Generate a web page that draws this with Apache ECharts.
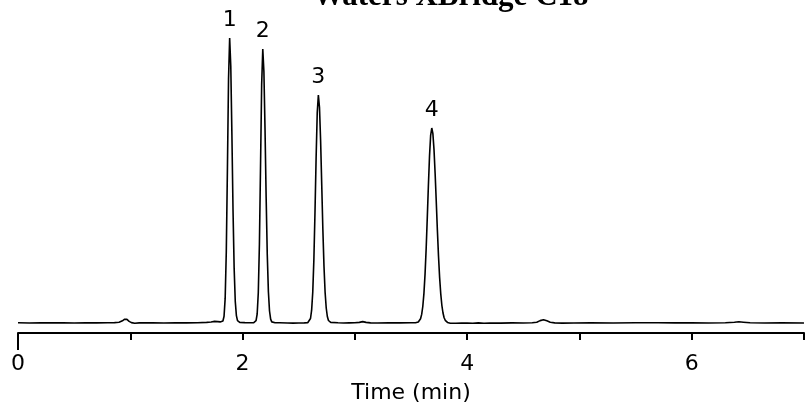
<!DOCTYPE html>
<html>
<head>
<meta charset="utf-8">
<script src="https://cdn.jsdelivr.net/npm/echarts@6/dist/echarts.min.js"></script>
<style>
  html, body { margin: 0; padding: 0; background: #fff; }
  #chart { width: 805px; height: 408px; }
</style>
</head>
<body>
<div id="chart"></div>
<script>
// Chromatogram (time in min, signal in arbitrary units)
const time = [
  0.00, 0.10, 0.20, 0.30, 0.40, 0.50, 0.60, 0.70, 0.80, 0.86, 0.90, 0.93, 0.95, 0.96, 0.97, 0.99,
  1.01, 1.04, 1.08, 1.20, 1.30, 1.40, 1.50, 1.60, 1.68, 1.72, 1.75, 1.78, 1.80, 1.815,
  1.825, 1.835, 1.845, 1.855, 1.865, 1.875, 1.885, 1.895, 1.905, 1.915, 1.925, 1.935, 1.945, 1.955, 1.965,
  1.975, 1.99, 2.02, 2.05, 2.08, 2.10,
  2.11, 2.12, 2.13, 2.14, 2.15, 2.16, 2.17, 2.18, 2.19, 2.20, 2.21, 2.22, 2.23, 2.24, 2.25, 2.26, 2.27,
  2.29, 2.33, 2.40, 2.45, 2.50, 2.55, 2.58,
  2.585, 2.595, 2.605, 2.615, 2.625, 2.635, 2.645, 2.655, 2.665, 2.675, 2.685, 2.695, 2.705, 2.715,
  2.725, 2.735, 2.745, 2.755, 2.765, 2.775, 2.785,
  2.80, 2.85, 2.90, 2.95, 3.00, 3.04, 3.07, 3.10, 3.14, 3.20, 3.30, 3.40, 3.50, 3.54,
  3.555, 3.565, 3.575, 3.585, 3.595, 3.605, 3.615, 3.625, 3.635, 3.645, 3.655, 3.665, 3.675, 3.685,
  3.695, 3.705, 3.715, 3.725, 3.735, 3.745, 3.755, 3.765, 3.775, 3.785, 3.795, 3.805, 3.815, 3.825, 3.835,
  3.85, 3.90, 3.95, 4.00, 4.05, 4.10, 4.15, 4.20, 4.30, 4.40, 4.50, 4.58, 4.62, 4.65, 4.68, 4.71, 4.74,
  4.78, 4.85, 4.95, 5.10, 5.30, 5.50, 5.70, 5.85, 6.00, 6.15, 6.30, 6.38, 6.42, 6.46, 6.52, 6.65, 6.80, 7.00
];
const signal = [
  0.2, 0.0, 0.3, 0.1, 0.2, 0.0, 0.2, 0.1, 0.3, 0.4, 0.8, 2.2, 3.8, 4.2, 3.6, 1.6,
  0.4, -0.2, 0.1, 0.2, 0.0, 0.2, 0.1, 0.3, 0.6, 1.0, 1.6, 1.4, 1.1, 1.2,
  2.0, 6.8, 24.6, 71.0, 153.6, 244.2, 285.0, 257.0, 188.5, 112.5, 54.6, 21.5, 7.4, 2.3, 0.9,
  0.6, 0.5, 0.4, 0.3, 0.3, 0.4,
  0.7, 2.3, 9.0, 30.3, 78.8, 157.5, 238.6, 274.0, 251.2, 193.6, 125.4, 68.3, 31.3, 12.0, 3.9, 1.1, 0.5,
  0.3, 0.2, 0.0, -0.1, 0.0, 0.1, 0.3,
  0.6, 1.4, 4.5, 12.8, 30.8, 63.4, 111.0, 165.6, 210.5, 228.0, 215.7, 182.6, 138.3, 93.7,
  56.9, 30.8, 15.0, 6.5, 2.5, 0.9, 0.6,
  0.4, 0.2, 0.0, 0.1, 0.2, 0.6, 1.4, 0.6, 0.1, 0.0, 0.2, 0.1, 0.2, 0.2,
  0.5, 1.0, 2.0, 4.3, 8.6, 16.5, 29.4, 48.6, 74.3, 105.2, 137.8, 167.1, 187.6, 195.0,
  189.3, 173.1, 149.2, 121.2, 92.7, 66.8, 45.4, 29.1, 17.5, 10.0, 5.3, 2.7, 1.3, 0.6, 0.2,
  -0.2, -0.3, -0.1, 0.0, -0.3, 0.1, -0.2, 0.0, -0.1, 0.1, 0.0, 0.2, 0.8, 2.4, 3.2, 2.2, 0.8,
  0.1, -0.1, 0.0, 0.1, 0.0, 0.2, 0.3, 0.1, 0.2, 0.0, 0.2, 0.8, 1.2, 0.8, 0.2, 0.0, 0.1, 0.0
];

// Peak annotations
const peakLabels = ['1', '2', '3', '4'];
const peakTimes = [1.885, 2.18, 2.675, 3.685];
const peakHeights = [285.0, 274.0, 228.0, 195.0];

// X axis ticks (0..7, labels on even minutes)
const tickLabels = ['0', '', '2', '', '4', '', '6', ''];

const titleText = 'Waters XBridge C18';
const axisName = 'Time (min)';

const chart = echarts.init(document.getElementById('chart'), null, { renderer: 'canvas' });

const option = {
  animation: false,
  backgroundColor: '#ffffff',
  title: {
    text: titleText,
    left: 313,
    top: -19,
    padding: 0,
    textStyle: {
      fontFamily: 'Liberation Serif',
      fontWeight: 'bold',
      fontSize: 31,
      color: '#000'
    }
  },
  grid: {
    left: 18,
    right: 1,
    top: 30,
    bottom: 75,
    containLabel: false,
    outerBoundsMode: 'none'
  },
  xAxis: [
    {
      type: 'value',
      min: 0,
      max: 7,
      interval: 1,
      position: 'bottom',
      name: axisName,
      nameLocation: 'middle',
      nameGap: 49,
      nameTextStyle: {
        fontFamily: 'DejaVu Sans',
        fontSize: 22,
        color: '#000'
      },
      axisLine: { show: true, onZero: false, lineStyle: { color: '#000', width: 2 } },
      axisTick: { show: true, inside: false, length: 7, lineStyle: { color: '#000', width: 2 } },
      axisLabel: {
        margin: 20,
        fontFamily: 'DejaVu Sans',
        fontSize: 22,
        color: '#000',
        formatter: function (v) {
          const i = Math.round(v);
          return tickLabels[i] !== undefined ? tickLabels[i] : '';
        }
      },
      splitLine: { show: false }
    },
    {
      type: 'value',
      min: 0,
      max: 7,
      position: 'bottom',
      axisLine: { show: false, onZero: false },
      axisTick: { show: true, length: 17, customValues: [0], lineStyle: { color: '#000', width: 2 } },
      axisLabel: { show: false },
      splitLine: { show: false }
    }
  ],
  yAxis: {
    type: 'value',
    min: -10,
    max: 293,
    show: false,
    splitLine: { show: false }
  },
  series: [
    {
      type: 'line',
      data: time.map((t, i) => [t, signal[i]]),
      showSymbol: false,
      symbol: 'none',
      smooth: false,
      lineStyle: { color: '#000', width: 1.6 },
      z: 3
    },
    {
      type: 'scatter',
      data: peakTimes.map((t, i) => [t, peakHeights[i]]),
      symbolSize: 0,
      itemStyle: { color: '#000', opacity: 1 },
      label: {
        show: true,
        position: 'top',
        distance: 7,
        fontFamily: 'DejaVu Sans',
        fontSize: 22,
        color: '#000',
        opacity: 1,
        formatter: function (p) { return peakLabels[p.dataIndex]; }
      },
      silent: true,
      z: 4
    }
  ]
};

chart.setOption(option);
</script>
</body>
</html>
